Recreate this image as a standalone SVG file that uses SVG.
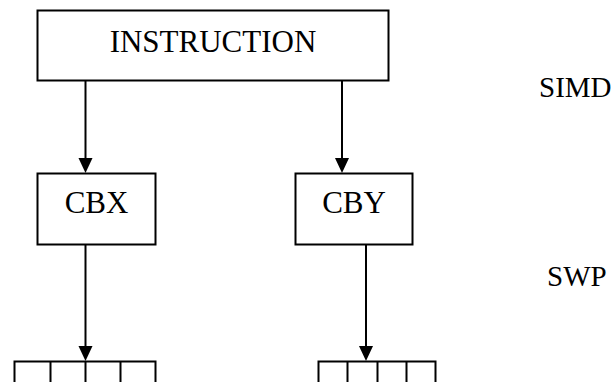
<svg xmlns="http://www.w3.org/2000/svg" width="614" height="382" viewBox="0 0 614 382">
  <style>
    .box { fill: #fff; stroke: #000; stroke-width: 2; }
    .cell { fill: none; stroke: #000; stroke-width: 2; }
    .lbl { font-family: "Liberation Serif", "Times New Roman", serif; font-size: 31px; fill: #000; }
    .side { font-size: 29px; }
    .wire { fill: none; stroke: #000; stroke-width: 2; }
    .head { fill: #000; }
  </style>

  <rect width="614" height="382" fill="#fff"/>

  <g id="instruction">
    <rect class="box" x="37.5" y="10.5" width="351" height="70"/>
    <text class="lbl" x="213" y="52" text-anchor="middle">INSTRUCTION</text>
  </g>

  <g id="cbx">
    <rect class="box" x="37.5" y="173.5" width="118" height="71"/>
    <text class="lbl" x="96.5" y="213" text-anchor="middle">CBX</text>
  </g>

  <g id="cby">
    <rect class="box" x="295.5" y="173.5" width="117" height="71"/>
    <text class="lbl" x="354" y="213" text-anchor="middle">CBY</text>
  </g>

  <g id="array-x">
    <rect class="cell" x="14.5" y="361.5" width="141" height="40"/>
    <path class="cell" d="M50.5,361.5 V402 M85.5,361.5 V402 M120.5,361.5 V402"/>
  </g>

  <g id="array-y">
    <rect class="cell" x="318.5" y="361.5" width="117" height="40"/>
    <path class="cell" d="M347.5,361.5 V402 M377.5,361.5 V402 M406.5,361.5 V402"/>
  </g>

  <g id="simd">
    <text class="lbl side" x="539" y="97">SIMD</text>
  </g>

  <g id="swp">
    <text class="lbl side" x="547" y="286">SWP</text>
  </g>

  <g id="connectors">
    <line class="wire" x1="85.5" y1="81" x2="85.5" y2="159"/>
    <path class="head" d="M78.5,158 L92.5,158 L85.5,173 Z"/>
    <line class="wire" x1="342" y1="81" x2="342" y2="159"/>
    <path class="head" d="M335,158 L349,158 L342,173 Z"/>
    <line class="wire" x1="85.5" y1="245" x2="85.5" y2="347"/>
    <path class="head" d="M78.5,346 L92.5,346 L85.5,361 Z"/>
    <line class="wire" x1="366" y1="245" x2="366" y2="347"/>
    <path class="head" d="M359,346 L373,346 L366,361 Z"/>
  </g>
</svg>
